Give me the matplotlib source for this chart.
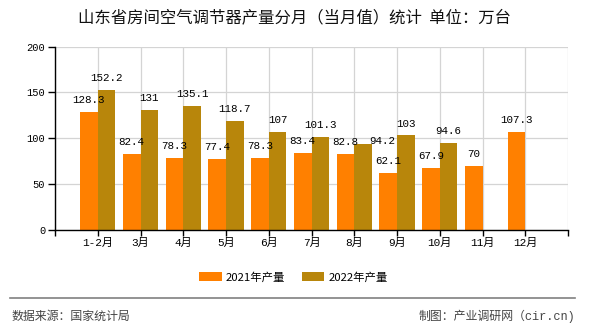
import numpy as np
import matplotlib
matplotlib.use("Agg")
import matplotlib.pyplot as plt
from matplotlib.patches import Patch
from matplotlib.lines import Line2D

title = "山东省房间空气调节器产量分月（当月值）统计  单位：万台"
categories = ["1-2月", "3月", "4月", "5月", "6月", "7月", "8月", "9月", "10月", "11月", "12月"]
series_names = ["2021年产量", "2022年产量"]
values_2021 = [128.3, 82.4, 78.3, 77.4, 78.3, 83.4, 82.8, 62.1, 67.9, 70, 107.3]
values_2022 = [152.2, 131, 135.1, 118.7, 107, 101.3, 94.2, 103, 94.6, None, None]
yticks = [0, 50, 100, 150, 200]
source_text = "数据来源：国家统计局"
credit_text = "制图：产业调研网（cir.cn)"

c2021 = "#FF8000"
c2022 = "#B8860B"
CJK = "Noto Sans CJK SC"
MONO = ["Liberation Mono", CJK, "DejaVu Sans"]

fig = plt.figure(figsize=(5.9, 3.3), dpi=100)
W, H = 590, 330
ax_l, ax_r, ax_t, ax_b = 55, 568, 46.7, 229.7
ax = fig.add_axes([ax_l / W, 1 - ax_b / H, (ax_r - ax_l) / W, (ax_b - ax_t) / H])

x = np.arange(1, len(categories) + 1)
bw = 0.41
v21 = np.array([np.nan if v is None else v for v in values_2021], dtype=float)
v22 = np.array([np.nan if v is None else v for v in values_2022], dtype=float)
ax.bar(x - bw / 2, v21, width=bw, color=c2021, zorder=3)
ax.bar(x + bw / 2, v22, width=bw, color=c2022, zorder=3)

ax.set_xlim(0, 12)
ax.set_ylim(0, 200)
ax.set_yticks(yticks)
ax.set_yticklabels([str(t) for t in yticks], family=MONO, fontsize=7.5)
ax.set_xticks(np.arange(0, 13))
ax.set_xticklabels([""] + categories + [""], family=MONO, fontsize=8)
ax.tick_params(axis="y", length=5, width=1, pad=2, color="black")
ax.tick_params(axis="x", length=4, width=1, pad=2, color="black")

ax.grid(True, color="#d4d4d4", linewidth=0.9, zorder=0)
ax.set_axisbelow(True)
for s in ["top", "right"]:
    ax.spines[s].set_visible(False)
for s in ["left", "bottom"]:
    ax.spines[s].set_color("black")
    ax.spines[s].set_linewidth(1.0)
    ax.spines[s].set_zorder(4)

def label(xc, v, dx=0, dy=8.6):
    if np.isnan(v):
        return
    ax.annotate(f"{v:g}", (xc, v), xytext=(dx, dy), textcoords="offset points",
                ha="center", va="center", family=MONO, fontsize=7.8, zorder=5)

for i, v in enumerate(v21):
    label(x[i] - bw / 2, v)
for i, v in enumerate(v22):
    # label that the original chart pushed aside to avoid overlapping its neighbour
    if i == 6:
        label(x[i] + bw / 2, v, dx=14, dy=1.5)
    else:
        label(x[i] + bw / 2, v)

fig.text(0.5, 1 - 18 / H, title, ha="center", va="center", family=CJK, fontsize=11.8, color="#111111")

handles = [Patch(facecolor=c2021, edgecolor="none"), Patch(facecolor=c2022, edgecolor="none")]
fig.legend(handles, series_names, loc="center", bbox_to_anchor=(0.497, 1 - 277 / H), ncol=2,
           frameon=False, prop={"family": CJK, "size": 8.2}, handlelength=2.0, handleheight=0.8,
           handletextpad=0.35, columnspacing=1.45, borderpad=0, borderaxespad=0)

fig.add_artist(Line2D([10 / W, 575 / W], [1 - 298.3 / H, 1 - 298.3 / H], transform=fig.transFigure,
                      color="#808080", linewidth=1.2))
fig.text(11 / W, 1 - 316.5 / H, source_text, ha="left", va="center", family=CJK, fontsize=8.6, color="#444444")
fig.text(575 / W, 1 - 316.5 / H, credit_text, ha="right", va="center", family=MONO, fontsize=8.6, color="#444444")

fig.savefig("out.png", dpi=100)
